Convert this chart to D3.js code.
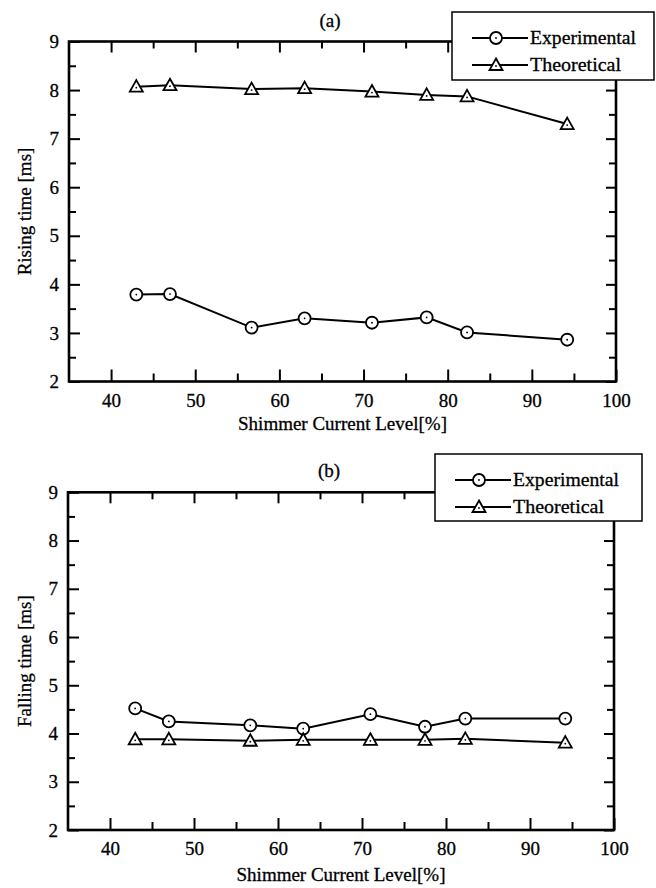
<!DOCTYPE html>
<html><head><meta charset="utf-8">
<script src="https://cdn.jsdelivr.net/npm/d3@7"></script>
<style>
html,body{margin:0;padding:0;background:#fff;}
svg{display:block;font-family:"Liberation Serif","DejaVu Serif",serif;}
svg text{stroke:#000;stroke-width:0.3px;fill:#000;}
</style></head>
<body><svg id="chart" width="656" height="888"></svg>
<script>
// ---- data ----
const currentLevel = [43, 47, 56.7, 63, 71, 77.5, 82.3, 94.2];
const risingExperimental = [3.79, 3.80, 3.11, 3.30, 3.21, 3.32, 3.01, 2.86];
const risingTheoretical  = [8.07, 8.10, 8.02, 8.04, 7.97, 7.90, 7.87, 7.30];
const fallingExperimental = [4.52, 4.25, 4.17, 4.10, 4.40, 4.14, 4.31, 4.31];
const fallingTheoretical  = [3.88, 3.88, 3.85, 3.87, 3.87, 3.87, 3.89, 3.81];
const xMajorTicks = [40, 50, 60, 70, 80, 90, 100];
const xMinorTicks = [45, 55, 65, 75, 85, 95];
const yMajorTicks = [2, 3, 4, 5, 6, 7, 8, 9];
const yMinorTicks = [2.5, 3.5, 4.5, 5.5, 6.5, 7.5, 8.5];
const seriesNames = ["Experimental", "Theoretical"];
const panelTitles = ["(a)", "(b)"];
const yLabels = ["Rising time [ms]", "Falling time [ms]"];
const xLabel = "Shimmer Current Level[%]";

const svg = d3.select("#chart");
const FONT = 19;
const legendTextWidths = [106, 91];

function panel(cfg) {
  const g = svg.append("g");
  const x = d3.scaleLinear().domain([35, 100]).range([cfg.left, cfg.right]);
  const y = d3.scaleLinear().domain([2, 9]).range([cfg.bottom, cfg.top]);

  const styleAxis = sel => {
    sel.attr("font-family", null).attr("font-size", null);
    sel.select(".domain").remove();
    sel.selectAll(".tick line").attr("stroke", "#000").attr("stroke-width", 2);
    sel.selectAll(".tick text").attr("font-size", FONT).attr("fill", "#000")
      .attr("font-family", '"Liberation Serif", serif');
  };
  // left
  g.append("g").attr("transform", `translate(${cfg.left},0)`)
    .call(d3.axisLeft(y).tickValues(yMajorTicks).tickSize(-11).tickPadding(10).tickFormat(d3.format("d")))
    .call(styleAxis);
  g.append("g").attr("transform", `translate(${cfg.left},0)`)
    .call(d3.axisLeft(y).tickValues(yMinorTicks).tickSize(-7).tickFormat("")).call(styleAxis);
  // right
  g.append("g").attr("transform", `translate(${cfg.right},0)`)
    .call(d3.axisRight(y).tickValues(yMajorTicks).tickSize(-10).tickFormat("")).call(styleAxis);
  g.append("g").attr("transform", `translate(${cfg.right},0)`)
    .call(d3.axisRight(y).tickValues(yMinorTicks).tickSize(-7).tickFormat("")).call(styleAxis);
  // bottom
  g.append("g").attr("transform", `translate(0,${cfg.bottom})`)
    .call(d3.axisBottom(x).tickValues(xMajorTicks).tickSize(-12).tickPadding(12).tickFormat(d3.format("d")))
    .call(styleAxis);
  g.append("g").attr("transform", `translate(0,${cfg.bottom})`)
    .call(d3.axisBottom(x).tickValues(xMinorTicks).tickSize(-8).tickFormat("")).call(styleAxis);
  // top
  g.append("g").attr("transform", `translate(0,${cfg.top})`)
    .call(d3.axisTop(x).tickValues(xMajorTicks).tickSize(-11).tickFormat("")).call(styleAxis);
  g.append("g").attr("transform", `translate(0,${cfg.top})`)
    .call(d3.axisTop(x).tickValues(xMinorTicks).tickSize(-7).tickFormat("")).call(styleAxis);

  // frame
  g.append("rect").attr("x", cfg.left).attr("y", cfg.top)
    .attr("width", cfg.right - cfg.left).attr("height", cfg.bottom - cfg.top)
    .attr("fill", "none").attr("stroke", "#000").attr("stroke-width", 2.6);

  // series
  const line = d3.line().x((d, i) => x(currentLevel[i])).y(d => y(d));
  [cfg.exp, cfg.theo].forEach((vals, si) => {
    g.append("path").datum(vals).attr("d", line).attr("fill", "none")
      .attr("stroke", "#000").attr("stroke-width", 2);
    const m = g.selectAll(null).data(vals).enter().append("g")
      .attr("transform", (d, i) => `translate(${x(currentLevel[i])},${y(d)})`);
    drawMarker(m, si);
  });

  // title
  g.append("text").attr("x", cfg.titleX).attr("y", cfg.titleY).attr("text-anchor", "middle")
    .attr("font-size", FONT).text(cfg.title);
  // axis labels
  g.append("text").attr("x", (cfg.left + cfg.right) / 2).attr("y", cfg.xLabelY)
    .attr("text-anchor", "middle").attr("font-size", FONT).text(xLabel);
  g.append("text").attr("transform", `translate(${cfg.yLabelX},${(cfg.top + cfg.bottom) / 2}) rotate(-90)`)
    .attr("text-anchor", "middle").attr("font-size", FONT).text(cfg.yLabel);

  // legend
  const L = cfg.legend;
  const lg = g.append("g");
  lg.append("rect").attr("x", L.x).attr("y", L.y).attr("width", L.w).attr("height", L.h)
    .attr("fill", "#fff").attr("stroke", "#000").attr("stroke-width", 1.5);
  seriesNames.forEach((name, si) => {
    const yy = L.y + 26 + si * 27;
    lg.append("line").attr("x1", L.x + 20).attr("x2", L.x + 76).attr("y1", yy).attr("y2", yy)
      .attr("stroke", "#000").attr("stroke-width", 2);
    drawMarker(lg.append("g").attr("transform", `translate(${L.x + 44},${yy})`), si);
    lg.append("text").attr("x", L.x + 78).attr("y", yy + 6).attr("font-size", FONT)
      .attr("textLength", legendTextWidths[si]).attr("lengthAdjust", "spacingAndGlyphs").text(name);
  });
}

function drawMarker(sel, si) {
  if (si === 0) {
    sel.append("circle").attr("r", 6).attr("fill", "#fff").attr("stroke", "#000").attr("stroke-width", 1.8);
  } else {
    sel.append("path").attr("d", "M0,-6.5L6.5,5L-6.5,5Z").attr("fill", "#fff")
      .attr("stroke", "#000").attr("stroke-width", 1.8);
  }
  sel.append("circle").attr("r", 0.9).attr("fill", "#000").attr("cy", si === 0 ? 0 : 1);
}

panel({left: 69, right: 616, top: 41.5, bottom: 381.5, exp: risingExperimental, theo: risingTheoretical,
  title: panelTitles[0], titleX: 330, titleY: 27, xLabelY: 430, yLabelX: 31, yLabel: yLabels[0],
  legend: {x: 452, y: 12, w: 202, h: 68}});
panel({left: 68, right: 614, top: 492.3, bottom: 830, exp: fallingExperimental, theo: fallingTheoretical,
  title: panelTitles[1], titleX: 329, titleY: 477, xLabelY: 881, yLabelX: 31, yLabel: yLabels[1],
  legend: {x: 435, y: 454, w: 207, h: 67}});
</script></body></html>
